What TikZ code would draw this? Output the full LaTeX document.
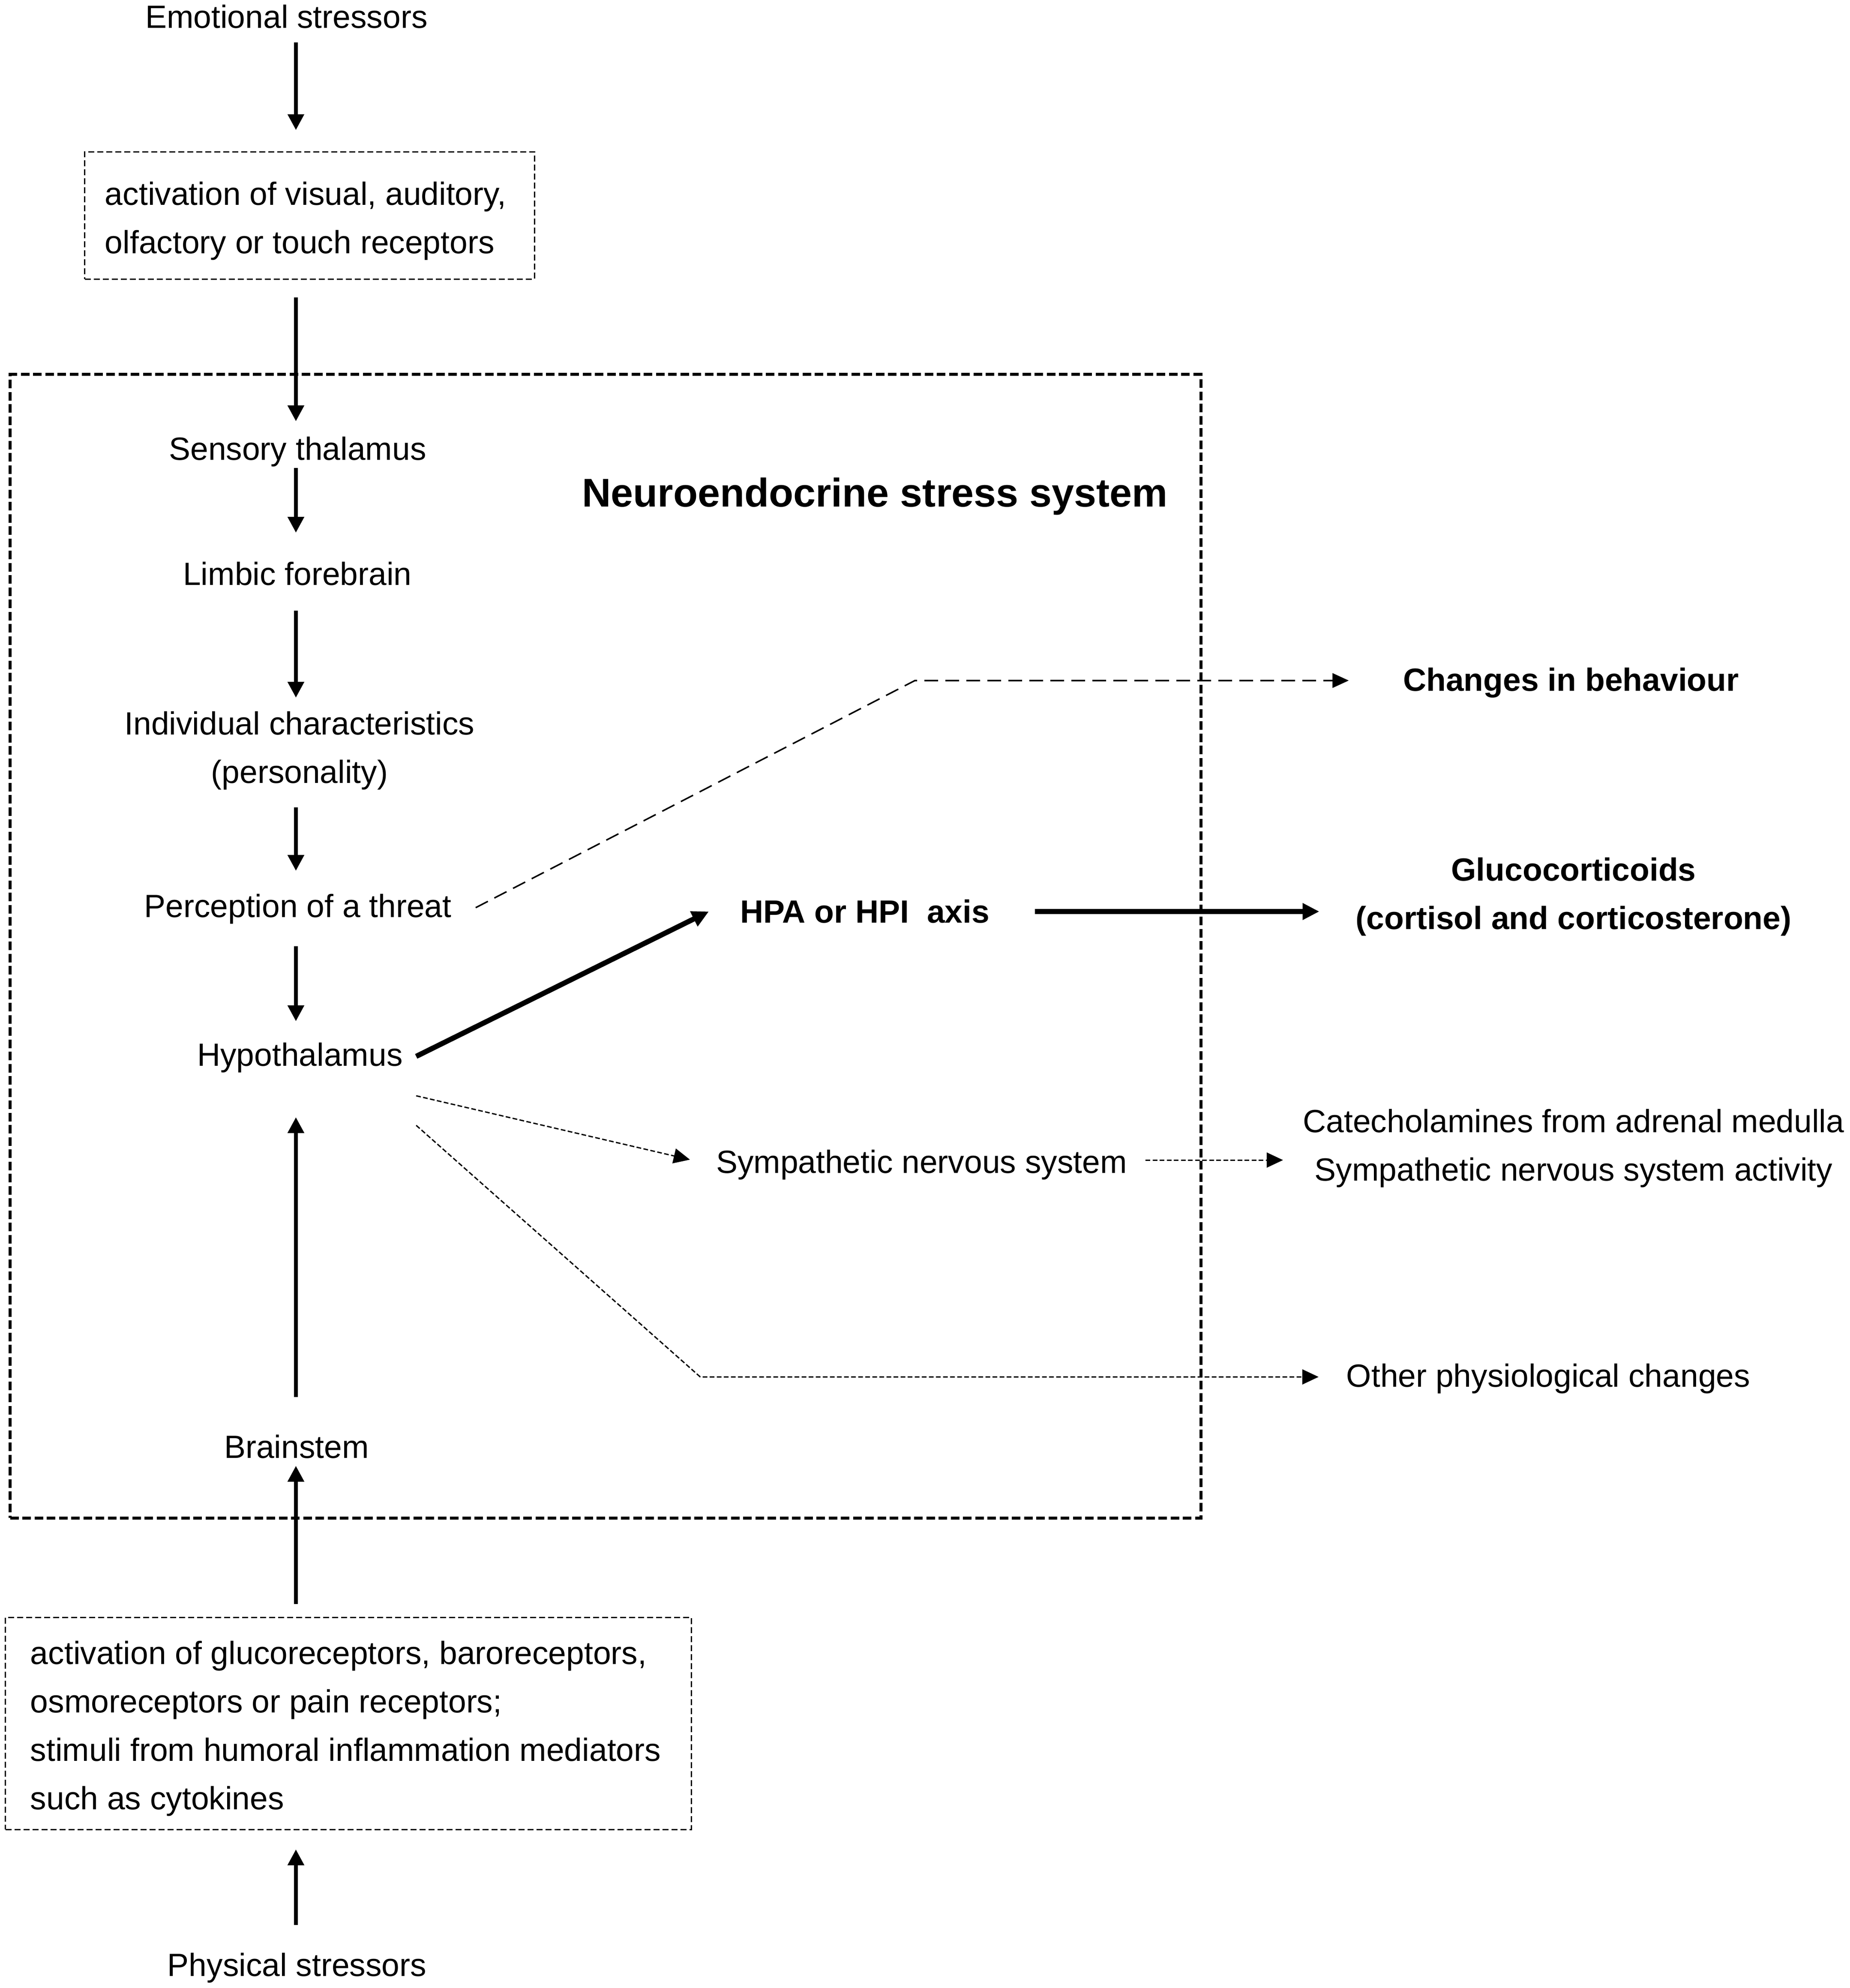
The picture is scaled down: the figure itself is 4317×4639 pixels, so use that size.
\documentclass[tikz,border=0pt]{standalone}
\usepackage{fontspec}
\setmainfont{Liberation Sans}
\usetikzlibrary{arrows.meta}
\renewcommand{\arraystretch}{1}
\newcommand{\mystrut}{\rule[-6.78pt]{0pt}{22.6pt}}
\begin{document}
\begin{tikzpicture}[x=0.2pt,y=-0.2pt,
  txt/.style={font=\fontsize{15pt}{22.6pt}\selectfont},
  boldtxt/.style={font=\fontsize{15pt}{22.6pt}\selectfont\bfseries},
  lbl/.style={txt, inner sep=0pt, text height=11pt, text depth=3.5pt, anchor=base},
  blbl/.style={boldtxt, inner sep=0pt, text height=11pt, text depth=3.5pt, anchor=base},
  varr/.style={line width=1.7pt, -{Triangle[length=7.4pt,width=7.4pt]}},
  thickarr/.style={line width=2.4pt, -{Triangle[length=7.8pt,width=7.4pt]}},
  dasharr/.style={line width=0.7pt, dash pattern=on 6.4pt off 3.4pt, -{Triangle[length=7.6pt,width=6.8pt]}},
  dotarr/.style={line width=0.6pt, dash pattern=on 2.2pt off 1.1pt, -{Triangle[length=7.6pt,width=7pt]}},
  smallbox/.style={txt, draw, line width=0.6pt, dash pattern=on 2.8pt off 1.4pt, inner ysep=0pt, anchor=base},
  bigbox/.style={draw, line width=1.4pt, dash pattern=on 4pt off 1.7pt, inner sep=0pt}]

\fill[white] (0,0) rectangle (4317,4639);
\useasboundingbox (0,0) rectangle (4317,4639);

% main frame
\node[bigbox, minimum width=555.6pt, minimum height=533.6pt] (frame) at (1413,2208) {};
\node[boldtxt, font=\fontsize{18.7pt}{22pt}\selectfont\bfseries, inner sep=0pt, anchor=base west] (title) at (1357,1182) {Neuroendocrine stress system};

% left column
\node[lbl] (emo) at (668.5,65.6) {Emotional stressors};
\node[smallbox, inner xsep=9.4pt, text height=24.8pt, text depth=34.6pt] (act) at (722.5,478)
  {\makebox[191pt][l]{\begin{tabular}[t]{@{}l@{}}\mystrut activation of visual, auditory,\\ \mystrut olfactory or touch receptors\end{tabular}}};
\node[lbl] (st) at (694.5,1073) {Sensory thalamus};
\node[lbl] (lf) at (694,1365) {Limbic forebrain};
\node[lbl, text depth=26.1pt] (ic) at (699,1714)
  {\begin{tabular}[t]{@{}c@{}}\mystrut Individual characteristics\\ \mystrut (personality)\end{tabular}};
\node[lbl] (pt) at (695,2140) {Perception of a threat};
\node[lbl] (hy) at (700,2487) {Hypothalamus};
\node[lbl] (bs) at (692,3402) {Brainstem};
\node[smallbox, inner xsep=11.6pt, text height=21.8pt, text depth=77.2pt] (box2) at (813,3883)
  {\makebox[296.8pt][l]{\begin{tabular}[t]{@{}l@{}}\mystrut activation of glucoreceptors, baroreceptors,\\ \mystrut osmoreceptors or pain receptors;\\ \mystrut stimuli from humoral inflammation mediators\\ \mystrut such as cytokines\end{tabular}}};
\node[lbl] (ps) at (693,4611) {Physical stressors};

% middle and right
\node[blbl, anchor=base west] (hpa) at (1726,2153) {HPA or HPI\ \ axis};
\node[lbl, anchor=base west] (sns) at (1670,2737) {Sympathetic nervous system};
\node[blbl] (beh) at (3666,1612) {Changes in behaviour};
\node[boldtxt, inner sep=0pt, anchor=base] (gluco) at (3672,2055)
  {\begin{tabular}[t]{@{}c@{}}\mystrut Glucocorticoids\\ \mystrut (cortisol and corticosterone)\end{tabular}};
\node[txt, inner sep=0pt, anchor=base] (cat) at (3672,2642)
  {\begin{tabular}[t]{@{}c@{}}\mystrut Catecholamines from adrenal medulla\\ \mystrut Sympathetic nervous system activity\end{tabular}};
\node[lbl] (oth) at (3613,3236) {Other physiological changes};

% helper coordinates
\coordinate (colx) at (690.5,0);
\coordinate (cb) at (2135,1588);
\coordinate (oc) at (1634,3213);

% vertical arrows
\draw[varr, shorten <=3pt, shorten >=9.8pt] (emo.south -| colx) -- (act.north -| colx);
\draw[varr, shorten <=8.2pt, shorten >=6.8pt] (act.south -| colx) -- (st.north -| colx);
\draw[varr, shorten >=13.2pt] (st.south -| colx) -- (lf.north -| colx);
\draw[varr, shorten <=8.3pt, shorten >=6pt] (lf.south -| colx) -- (ic.north -| colx);
\draw[varr, shorten <=7.7pt, shorten >=10.4pt] (ic.south -| colx) -- (pt.north -| colx);
\draw[varr, shorten <=9.9pt, shorten >=9.6pt] (pt.south -| colx) -- (hy.north -| colx);
\draw[varr, shorten <=17.2pt, shorten >=20.3pt] (bs.north -| colx) -- (hy.south -| colx);
\draw[varr, shorten <=6pt] (box2.north -| colx) -- (bs.south -| colx);
\draw[varr, shorten <=12.6pt, shorten >=9pt] (ps.north -| colx) -- (box2.south -| colx);

% thick HPA arrows
\draw[thickarr] ([xshift=6.1pt,yshift=4.4pt]hy.base east) -- ([xshift=-14.4pt,yshift=5.2pt]hpa.base west);
\draw[thickarr, shorten >=16.8pt] ([xshift=20.9pt,yshift=5.2pt]hpa.base east) coordinate (h1) -- (h1 -| gluco.west);

% dashed behaviour arrow
\draw[dasharr, shorten >=25.2pt] ([xshift=11.1pt,yshift=4.4pt]pt.base east) -- (cb) -- (cb -| beh.west);

% dotted arrows
\draw[dotarr] ([xshift=6.1pt,yshift=-14pt]hy.base east) -- ([xshift=-12pt,yshift=6.2pt]sns.base west);
\draw[dotarr, shorten >=9.1pt] ([xshift=8.5pt,yshift=6pt]sns.base east) coordinate (s1) -- (s1 -| cat.west);
\draw[dotarr, shorten >=12.8pt] ([xshift=6.1pt,yshift=-27.8pt]hy.base east) -- (oc) -- (oc -| oth.west);

\end{tikzpicture}
\end{document}
